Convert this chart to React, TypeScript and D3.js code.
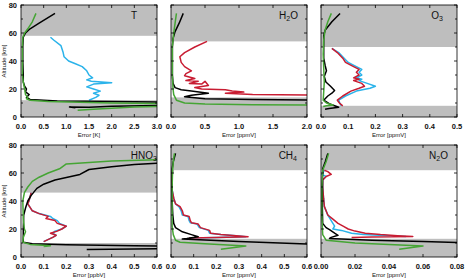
import * as d3 from 'd3';
import React from 'react';

type Pt = [number, number]; // [error, altitude km]

const altitudeTicks = [0, 20, 40, 60, 80];
const altitudeMinor = [10, 30, 50, 70];

// ---- T ----
const tCyan: Pt[] = [[0.65,57],[0.72,55],[0.88,51],[0.93,46],[0.95,43],[1.05,40],[1.2,38],[1.35,36],[1.45,33],[1.5,30],[1.58,28],[1.45,26.5],[1.55,25.5],[2.0,24.5],[1.6,23.5],[1.45,21.5],[1.6,20],[1.75,18.5],[1.6,17],[1.72,15.5],[1.65,14],[1.5,12]];
const tBlack: Pt[] = [[0.75,74],[0.4,67],[0.2,63],[0.1,60],[0.05,57],[0.04,50],[0.04,40],[0.05,30],[0.05,25],[0.08,22],[0.12,20],[0.1,18],[0.18,16],[0.12,14],[0.2,12.5],[0.8,11.5],[2,11],[3.5,10.5],[3.5,8.5],[2,7.6],[1.5,7],[1.07,7.2],[1.2,6.6]];
const tGreen: Pt[] = [[0.33,74],[0.25,68],[0.15,63],[0.08,60],[0.04,57],[0.03,50],[0.03,40],[0.03,30],[0.05,25],[0.08,20],[0.1,16],[0.15,14],[0.12,13],[0.2,12],[0.6,11],[2,10],[3.5,9.5],[3.5,7.8],[2.5,7.2],[1.6,5.6],[1.25,4.8]];

// ---- H2O ----
const h2oRed: Pt[] = [[0.53,54],[0.35,50],[0.2,46],[0.13,43],[0.15,39],[0.2,36],[0.3,33],[0.22,31],[0.2,29.5],[0.35,27.5],[0.22,26],[0.4,25.5],[0.27,24],[0.45,23.5],[0.5,25.5],[0.55,22.5],[0.35,21],[0.45,20],[0.8,19.5],[0.9,18.5],[1.07,17.8],[0.8,17],[1.2,16],[2.5,15.5]];
const h2oBlack: Pt[] = [[0.18,74],[0.12,67],[0.06,61],[0.03,56],[0.02,50],[0.02,40],[0.02,30],[0.03,24],[0.06,21],[0.15,19.5],[0.3,18.5],[0.55,17],[0.3,15.5],[0.2,14.5],[0.5,13],[1.2,12.5],[2.5,12]];
const h2oGreen: Pt[] = [[0.08,74],[0.06,67],[0.04,60],[0.02,50],[0.02,40],[0.02,30],[0.03,20],[0.04,16],[0.08,12],[0.2,10],[0.5,9.2],[1.2,8.8],[2.5,8.5]];

// ---- O3 ----
const o3Cyan: Pt[] = [[0.04,49],[0.065,46],[0.085,42],[0.1,39],[0.13,36],[0.15,34],[0.14,32],[0.15,30],[0.13,28],[0.15,27],[0.14,26],[0.17,24],[0.2,22],[0.18,20.5],[0.13,18.5],[0.09,15],[0.065,12],[0.07,9.5],[0.075,8]];
const o3Red: Pt[] = [[0.04,49],[0.06,46],[0.08,42],[0.09,39],[0.12,36],[0.14,34],[0.13,32],[0.14,30],[0.12,28],[0.14,27],[0.12,26],[0.15,24],[0.16,22],[0.14,20.5],[0.11,18.5],[0.08,15],[0.06,12],[0.07,9.5],[0.08,8]];
const o3Black: Pt[] = [[0.07,74],[0.04,68],[0.015,62],[0.01,58],[0.01,50],[0.01,42],[0.015,37],[0.02,33],[0.012,29],[0.018,25],[0.035,22],[0.05,19],[0.04,17],[0.025,15],[0.01,12],[0.03,9.5],[0.065,7],[0.03,6],[0.015,5.5]];
const o3Green: Pt[] = [[0.038,74],[0.025,68],[0.015,62],[0.01,55],[0.008,45],[0.01,35],[0.012,25],[0.01,18],[0.008,12],[0.02,10],[0.045,8.5],[0.02,8],[0.008,7.5]];

// ---- HNO3 ----
const hno3Cyan: Pt[] = [[0.045,46],[0.04,43],[0.035,40],[0.03,38],[0.05,33],[0.08,31],[0.13,29],[0.14,27.5],[0.16,26],[0.17,24],[0.2,22],[0.18,20],[0.15,18.5],[0.14,17],[0.155,15.5],[0.14,14],[0.1,11]];
const hno3Red: Pt[] = [[0.045,46],[0.04,43],[0.035,40],[0.03,38],[0.05,33],[0.08,31],[0.12,29],[0.11,27.5],[0.15,26],[0.16,24],[0.2,22],[0.18,20],[0.16,18.5],[0.13,17],[0.155,15.5],[0.14,14],[0.1,11]];
const hno3Black: Pt[] = [[0.8,67.5],[0.6,67],[0.5,66],[0.4,64.5],[0.3,62.5],[0.26,59],[0.22,57.5],[0.15,55],[0.1,52],[0.07,49],[0.045,44],[0.03,40],[0.02,35],[0.012,30],[0.01,20],[0.01,14],[0.01,10.5],[0.05,9.5],[0.2,8.8],[0.5,8],[0.8,7.5],[0.8,6.2],[0.5,5.8],[0.29,5.3]];
const hno3Green: Pt[] = [[0.8,70],[0.6,69.5],[0.4,68.5],[0.2,66.5],[0.17,63],[0.12,60],[0.08,57],[0.05,54],[0.03,50],[0.015,46],[0.008,40],[0.01,28],[0.015,20],[0.02,18],[0.01,14],[0.008,10.5],[0.04,9],[0.13,8],[0.1,7.5]];

// ---- CH4 ----
const ch4Cyan: Pt[] = [[0.007,62],[0.004,55],[0.005,48],[0.012,42],[0.02,38],[0.035,36],[0.045,33],[0.05,30],[0.075,29],[0.08,26],[0.085,24.5],[0.115,23.5],[0.125,21],[0.165,19],[0.17,17],[0.22,16],[0.3,15],[0.33,14.5],[0.2,14],[0.08,13.5]];
const ch4Red: Pt[] = [[0.007,62],[0.004,55],[0.005,48],[0.012,42],[0.02,38],[0.04,36],[0.05,33],[0.055,30],[0.08,29],[0.085,26],[0.09,24.5],[0.12,23.5],[0.13,21],[0.17,19],[0.175,17],[0.22,16],[0.3,15],[0.34,14.5],[0.2,14],[0.08,13.5]];
const ch4Black: Pt[] = [[0.02,74],[0.01,68],[0.005,63],[0.005,50],[0.005,40],[0.008,30],[0.012,24],[0.02,21],[0.05,18],[0.09,16],[0.12,14.5],[0.07,13.2],[0.05,12.8],[0.3,11],[0.6,9.2],[0.8,8.5]];
const ch4Green: Pt[] = [[0.015,74],[0.01,68],[0.007,62],[0.005,50],[0.005,35],[0.005,22],[0.01,16],[0.02,12],[0.04,10.5],[0.15,9.5],[0.25,8.5],[0.33,7.8],[0.22,5.5]];

// ---- N2O ----
const n2oCyan: Pt[] = [[0.002,62],[0.0005,59],[0.003,57.5],[0.001,55],[0.001,50],[0.0015,42],[0.002,36],[0.004,30],[0.006,26],[0.008,22],[0.007,20],[0.012,19],[0.018,17],[0.025,16],[0.04,15.2],[0.05,14.6]];
const n2oRed: Pt[] = [[0.002,62],[0.004,61],[0.006,59],[0.003,57.5],[0.001,55],[0.001,50],[0.0015,42],[0.002,36],[0.004,30],[0.007,27],[0.01,24],[0.013,22],[0.016,20],[0.02,18.5],[0.026,17],[0.035,16],[0.045,15.2],[0.054,14.6],[0.03,14.3],[0.018,14]];
const n2oBlack: Pt[] = [[0.004,74],[0.0025,68],[0.001,63],[0.0008,50],[0.0008,35],[0.001,24],[0.003,21],[0.005,19.5],[0.008,17],[0.01,15.5],[0.006,14],[0.005,13.3],[0.03,12],[0.06,11],[0.09,10]];
const n2oGreen: Pt[] = [[0.0045,74],[0.003,68],[0.001,62],[0.0005,50],[0.0005,30],[0.001,16],[0.003,12],[0.02,10],[0.04,9],[0.06,7.8],[0.046,5.5]];

type Panel = {
  title: string; // "_2" marks a subscript digit
  unit: string;
  xTicks: number[];
  fmt: string;
  valid: [number, number]; // white band [bottom, top] km
  cyan?: Pt[];
  red?: Pt[];
  black: Pt[];
  green: Pt[];
};

const panels: Panel[] = [
  { title: 'T', unit: 'Error [K]', xTicks: [0, 0.5, 1, 1.5, 2, 2.5, 3], fmt: '.1f', valid: [12, 58], cyan: tCyan, black: tBlack, green: tGreen },
  { title: 'H_2O', unit: 'Error [ppmV]', xTicks: [0, 0.5, 1, 1.5, 2], fmt: '.1f', valid: [14, 54], red: h2oRed, black: h2oBlack, green: h2oGreen },
  { title: 'O_3', unit: 'Error [ppmV]', xTicks: [0, 0.1, 0.2, 0.3, 0.4, 0.5], fmt: '.1f', valid: [8, 50], cyan: o3Cyan, red: o3Red, black: o3Black, green: o3Green },
  { title: 'HNO_3', unit: 'Error [ppbV]', xTicks: [0, 0.1, 0.2, 0.3, 0.4, 0.5, 0.6], fmt: '.1f', valid: [10, 46], cyan: hno3Cyan, red: hno3Red, black: hno3Black, green: hno3Green },
  { title: 'CH_4', unit: 'Error [ppmV]', xTicks: [0, 0.1, 0.2, 0.3, 0.4, 0.5, 0.6], fmt: '.1f', valid: [13, 62], cyan: ch4Cyan, red: ch4Red, black: ch4Black, green: ch4Green },
  { title: 'N_2O', unit: 'Error [ppmV]', xTicks: [0, 0.02, 0.04, 0.06, 0.08], fmt: '.2f', valid: [13, 62], cyan: n2oCyan, red: n2oRed, black: n2oBlack, green: n2oGreen },
];

const W = 465;
const H = 278;
const colX = [21, 171, 321];
const rowY = [5, 145];
const pw = 136;
const ph = 112;
const titleInset = [20, 9, 14, 0, 10, 9];
const font = '"Liberation Sans", Arial, Helvetica, sans-serif';

const COLORS = { cyan: '#2bb3ea', red: '#c81c32', black: '#000000', green: '#45a534' };

function Title({ text, x, y }: { text: string; x: number; y: number }) {
  const parts = text.split(/_(\d)/);
  return (
    <text x={x} y={y} textAnchor="end" fontSize={10} fontFamily={font} fill="#111">
      {parts.map((p, i) =>
        i % 2 === 1 ? (
          <tspan key={i} fontSize={7} dy={2}>{p}</tspan>
        ) : (
          <tspan key={i} dy={i > 0 ? -2 : 0}>{p}</tspan>
        ),
      )}
    </text>
  );
}

function PanelView({ p, idx }: { p: Panel; idx: number }) {
  const x0 = colX[idx % 3];
  const y0 = rowY[Math.floor(idx / 3)];
  const xMax = p.xTicks[p.xTicks.length - 1];
  const x = d3.scaleLinear().domain([0, xMax]).range([0, pw]);
  const y = d3.scaleLinear().domain([0, 80]).range([ph, 0]);
  const line = d3.line<Pt>().x((d) => x(d[0])).y((d) => y(d[1]));
  const fmt = d3.format(p.fmt);
  const clipId = `clip-${idx}`;
  const series: [keyof typeof COLORS, Pt[] | undefined][] = [
    ['cyan', p.cyan],
    ['red', p.red],
    ['black', p.black],
    ['green', p.green],
  ];
  const leftCol = idx % 3 === 0;
  return (
    <g transform={`translate(${x0},${y0})`}>
      <defs>
        <clipPath id={clipId}>
          <rect x={0} y={0} width={pw} height={ph} />
        </clipPath>
      </defs>
      <rect x={0} y={0} width={pw} height={ph} fill="#fff" />
      <rect x={0} y={y(80)} width={pw} height={y(p.valid[1]) - y(80)} fill="#bebebe" />
      <rect x={0} y={y(p.valid[0])} width={pw} height={y(0) - y(p.valid[0])} fill="#bebebe" />
      <g clipPath={`url(#${clipId})`}>
        {series.map(([c, d]) =>
          d ? (
            <path key={c} d={line(d) ?? ''} fill="none" stroke={COLORS[c]} strokeWidth={1.5} strokeLinejoin="round" />
          ) : null,
        )}
      </g>
      <rect x={0} y={0} width={pw} height={ph} fill="none" stroke="#000" strokeWidth={0.8} />
      {altitudeTicks.concat(altitudeMinor).map((t) => {
        const len = altitudeTicks.includes(t) ? 3 : 2;
        return (
          <g key={`yt${t}`} stroke="#000" strokeWidth={0.8}>
            <line x1={0} x2={len} y1={y(t)} y2={y(t)} />
            <line x1={pw} x2={pw - len} y1={y(t)} y2={y(t)} />
          </g>
        );
      })}
      {p.xTicks.map((t) => (
        <g key={`xt${t}`} stroke="#000" strokeWidth={0.8}>
          <line x1={x(t)} x2={x(t)} y1={ph} y2={ph - 3} />
          <line x1={x(t)} x2={x(t)} y1={0} y2={3} />
        </g>
      ))}
      {p.xTicks.map((t) => (
        <text key={`xl${t}`} x={x(t)} y={ph + 12} textAnchor="middle" fontSize={7.5} fontWeight="bold" fontFamily={font} fill="#111">
          {fmt(t)}
        </text>
      ))}
      <text x={pw / 2} y={ph + 19.5} textAnchor="middle" fontSize={6} fontFamily={font} fill="#111">
        {p.unit}
      </text>
      {leftCol &&
        altitudeTicks.map((t) => (
          <text key={`yl${t}`} x={-4} y={y(t) + 2.6} textAnchor="end" fontSize={7.5} fontWeight="bold" fontFamily={font} fill="#111">
            {t}
          </text>
        ))}
      {leftCol && (
        <text transform={`translate(${-15},${ph / 2}) rotate(-90)`} textAnchor="middle" fontSize={6} fontFamily={font} fill="#111">
          Altitude [km]
        </text>
      )}
      <Title text={p.title} x={pw - titleInset[idx]} y={14} />
    </g>
  );
}

export default function App() {
  return (
    <svg width={W} height={H} style={{ position: 'absolute', left: 0, top: 0, background: '#fff' }}>
      {panels.map((p, i) => (
        <PanelView key={p.title} p={p} idx={i} />
      ))}
    </svg>
  );
}
